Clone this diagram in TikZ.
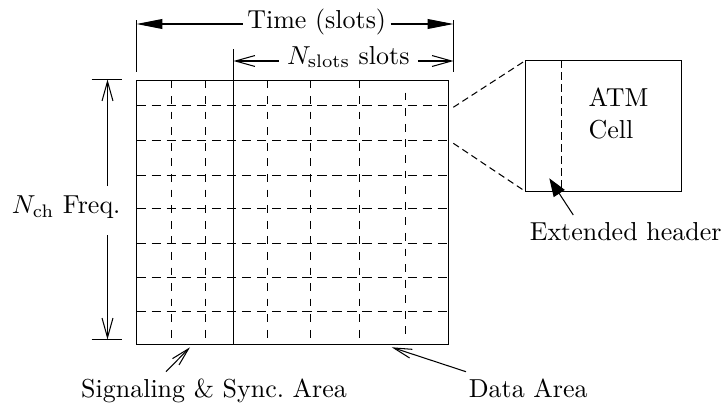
\documentclass[tikz,border=0pt]{standalone}
\usetikzlibrary{arrows.meta}
\begin{document}
\begin{tikzpicture}[x=0.385pt,y=-0.385pt,line width=0.4pt,
  lbl/.style={inner sep=0pt,anchor=base west},
  gridh/.style={dash pattern=on 3.6pt off 2.2pt},
  gridv/.style={dash pattern=on 3pt off 3pt},
  zoomline/.style={dash pattern=on 2.6pt off 1.6pt},
  dimbold/.style={-{Triangle[length=10pt,width=3.8pt]}},
  dimopen/.style={-{Straight Barb[length=7.5pt,width=4.2pt]}},
  pointer/.style={-{Straight Barb[length=7pt,width=3.5pt]}},
  pointerbold/.style={-{Triangle[length=7pt,width=5pt]}}]
\useasboundingbox (0,0) rectangle (725,405);

% frame of the time/frequency grid
\coordinate (f-nw) at (136.5,80.5);
\coordinate (f-se) at (448.5,344.5);
\foreach \y in {105.5,140.5,175.5,208.5,243.5,277.5,311.5}
  \draw[gridh] (136.5,\y) -- (448.5,\y);
\foreach \x in {171.5,205.5,267.5,310.5,359.5}
  \draw[gridv] (\x,80.5) -- (\x,344.5);
\draw[gridv] (405.5,92.7) -- (405.5,336.7);
\draw[line width=0.5pt] (f-nw) rectangle (f-se);
\draw (233.5,49) -- (233.5,344.5);

% time dimension
\draw (136.5,20) -- (136.5,71.7);
\draw (453.5,20) -- (453.5,72);
\coordinate (t-l) at (136.5,24);
\coordinate (t-r) at (453.5,24);
\node[anchor=base,inner sep=0pt,inner xsep=1.5pt] (time) at (316.7,28.3) {Time (slots)};
\draw[dimbold] (time.west |- t-l) -- (t-l);
\draw[dimbold] (time.east |- t-r) -- (t-r);

% data slots dimension
\coordinate (s-l) at (233.5,61);
\coordinate (s-r) at (453.5,61);
\node[anchor=base,inner sep=0pt,inner xsep=3pt] (slots) at (348.3,64) {$N_{\mathrm{slots}}$ slots};
\draw[dimopen] (slots.west |- s-l) -- (s-l);
\draw[dimopen] (slots.east |- s-r) -- (s-r);

% frequency dimension
\draw (91.7,79.5) -- (121.7,79.5);
\draw (91.7,339.5) -- (121.7,339.5);
\coordinate (c-top) at (107.5,79.5);
\coordinate (c-bot) at (107.5,339.5);
\coordinate (c-a) at (107.5,186);
\coordinate (c-b) at (107.5,235);
\node[anchor=base,inner sep=0pt] (freq) at (66.2,213.3) {$N_{\mathrm{ch}}$ Freq.};
\draw[dimopen] (c-a) -- (c-top);
\draw[dimopen] (c-b) -- (c-bot);

% enlarged ATM cell
\coordinate (cell-nw) at (525.5,60.5);
\coordinate (cell-sw) at (525.5,191.5);
\coordinate (cell-se) at (681.5,191.5);
\draw[line width=0.5pt] (cell-nw) rectangle (cell-se);
\draw[dash pattern=on 3pt off 1.6pt] (561.5,60.5) -- (561.5,191.5);
\coordinate (z-a) at (453.3,107.3);
\coordinate (z-b) at (453.3,143.3);
\draw[zoomline] (z-a) -- (cell-nw);
\draw[zoomline] (z-b) -- (cell-sw);
\node[lbl] (atm) at (588,106.7) {ATM};
\node[lbl] (cellword) at (588,138.3) {Cell};

% extended header pointer
\node[lbl] (ext) at (529.3,240.8) {Extended header};
\coordinate (e-tail) at (573.3,215);
\coordinate (e-tip) at (549.3,178.3);
\draw[pointerbold] (e-tail) -- (e-tip);

% area labels
\node[lbl] (sig) at (80.7,397) {Signaling \& Sync.\ Area};
\node[lbl] (data) at (468.3,397) {Data Area};
\coordinate (sig-tail) at (166,371.7);
\coordinate (sig-tip) at (190,347.3);
\coordinate (data-tail) at (466,371.7);
\coordinate (data-tip) at (391.7,347.3);
\draw[pointer] (sig-tail) -- (sig-tip);
\draw[pointer] (data-tail) -- (data-tip);
\end{tikzpicture}
\end{document}
